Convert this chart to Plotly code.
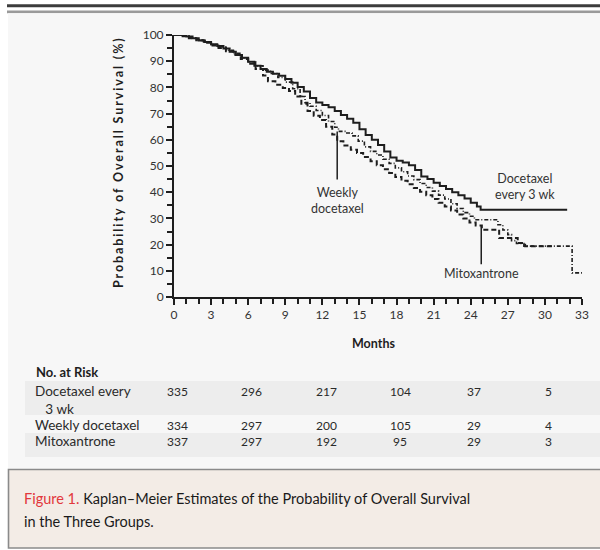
import plotly.graph_objects as go

# ---------------- data ----------------
months_q3w = [0, 0.5, 1.0, 1.5, 2.0, 2.5, 3.0, 3.5, 4.0, 4.5, 5.0, 5.5, 6.0, 6.5, 7.0, 7.5, 8.0, 8.5, 9.0, 9.5,
              10.0, 10.5, 11.0, 11.5, 12.0, 12.5, 13.0, 13.5, 14.0, 14.5, 15.0, 15.5, 16.0, 16.5, 17.0, 17.5,
              18.0, 18.5, 19.0, 19.5, 20.0, 20.5, 21.0, 21.5, 22.0, 22.5, 23.0, 23.5, 24.0, 24.5, 24.8, 31.8]
surv_q3w = [100, 100, 99.4, 98.8, 97.9, 97.3, 96.5, 95.8, 94.8, 93.6, 92.4, 91.3, 89.8, 88.3, 87.0, 86.0, 85.2, 84.4, 83.2, 81.8,
            80.2, 78.4, 76.0, 74.2, 73.3, 72.4, 71.0, 69.5, 68.0, 66.5, 64.0, 61.8, 60.0, 58.0, 55.5, 53.2,
            52.0, 51.3, 50.3, 48.5, 46.0, 45.0, 43.6, 42.4, 41.2, 40.0, 38.8, 37.6, 36.0, 34.5, 33.3, 33.3]

months_weekly = [0, 0.7, 1.2, 1.8, 2.4, 3.0, 3.6, 4.2, 4.8, 5.4, 6.0, 6.6, 7.2, 7.8, 8.4, 9.0, 9.6, 10.2, 10.6, 11.0,
                 11.5, 12.0, 12.5, 13.0, 13.3, 13.9, 14.4, 14.9, 15.4, 15.9, 16.4, 16.9, 17.4, 17.9, 18.4, 18.9,
                 19.4, 19.9, 20.4, 20.9, 21.4, 21.9, 22.4, 22.9, 23.4, 23.9, 24.3, 26.2, 26.6, 27.0, 27.3, 27.7,
                 28.3, 32.2, 33.0]
surv_weekly = [100, 99.6, 98.9, 98.2, 97.3, 96.4, 95.4, 94.2, 93.0, 91.3, 89.8, 88.2, 86.6, 85.3, 83.8, 82.0, 79.5, 76.5, 74.2, 72.8,
               71.2, 69.3, 67.0, 64.8, 63.2, 62.6, 61.5, 59.5, 57.3, 55.6, 54.2, 52.6, 51.0, 49.3, 47.8, 46.2,
               44.8, 43.3, 41.8, 40.4, 38.9, 37.4, 35.6, 33.8, 32.2, 30.8, 29.5, 27.6, 25.6, 23.8, 21.5, 20.4,
               19.4, 9.2, 9.2]

months_mito = [0, 0.7, 1.2, 1.8, 2.4, 3.0, 3.6, 4.2, 4.8, 5.4, 6.0, 6.6, 7.2, 7.6, 8.2, 8.8, 9.3, 9.8, 10.3, 10.8,
               11.3, 11.8, 12.3, 12.8, 13.2, 13.7, 14.3, 14.8, 15.3, 15.9, 16.4, 16.9, 17.4, 17.9, 18.4, 18.9,
               19.4, 19.9, 20.4, 20.9, 21.4, 21.9, 22.4, 22.9, 23.4, 23.9, 24.4, 24.9, 26.3, 27.8, 28.4, 30.6]
surv_mito = [100, 99.5, 98.8, 98.0, 97.0, 96.0, 95.0, 93.8, 92.5, 90.8, 89.0, 87.0, 84.5, 82.3, 81.0, 79.8, 78.6, 76.5, 73.8, 71.0,
             69.2, 67.6, 65.0, 62.0, 59.4, 57.8, 56.2, 55.0, 53.4, 51.8, 50.3, 48.8, 47.3, 45.8, 44.4, 43.0,
             41.6, 40.2, 38.8, 37.4, 36.0, 34.5, 33.0, 31.5, 30.0, 28.4, 27.3, 25.7, 22.5, 20.6, 19.4, 19.4]

risk_months = [0, 6, 12, 18, 24, 30]
risk_groups = ["Docetaxel every<br>&nbsp;&nbsp;&nbsp;3 wk", "Weekly docetaxel", "Mitoxantrone"]
risk_counts = [
    [335, 296, 217, 104, 37, 5],
    [334, 297, 200, 105, 29, 4],
    [337, 297, 192, 95, 29, 3],
]

x_ticks = [0, 3, 6, 9, 12, 15, 18, 21, 24, 27, 30, 33]
y_ticks = [0, 10, 20, 30, 40, 50, 60, 70, 80, 90, 100]

# ---------------- layout helpers ----------------
W, H = 600, 550
ML, MR, MT, MB = 174, 18, 35, 253
PW = W - ML - MR
PH = H - MT - MB


def fx(px):
    return (px - ML) / PW


def fy(py):
    return (H - MB - py) / PH


FONT = "Lato"
INK = "#1e1e1e"

fig = go.Figure()

fig.add_trace(go.Scatter(x=months_q3w, y=surv_q3w, mode="lines", cliponaxis=False,
                         line=dict(color=INK, width=2, shape="hv"), hoverinfo="skip"))
fig.add_trace(go.Scatter(x=months_weekly, y=surv_weekly, mode="lines", cliponaxis=False,
                         line=dict(color=INK, width=1.6, shape="hv", dash="4px,2px,1px,2px"), hoverinfo="skip"))
fig.add_trace(go.Scatter(x=months_mito, y=surv_mito, mode="lines", cliponaxis=False,
                         line=dict(color=INK, width=2, shape="hv", dash="5px,3px"), hoverinfo="skip"))

shapes = [
    # top rules
    dict(type="rect", xref="paper", yref="paper", x0=fx(7), x1=fx(600), y0=fy(7.2), y1=fy(4.3),
         fillcolor="#3c3c3c", line_width=0, layer="below"),
    dict(type="rect", xref="paper", yref="paper", x0=fx(7), x1=fx(600), y0=fy(13.2), y1=fy(10.5),
         fillcolor="#9a9a9a", line_width=0, layer="below"),
    # panel
    dict(type="rect", xref="paper", yref="paper", x0=fx(8), x1=fx(600), y0=fy(469), y1=fy(13.2),
         fillcolor="#f7f7f7", line_width=0, layer="below"),
    # table shading
    dict(type="rect", xref="paper", yref="paper", x0=fx(25), x1=fx(600), y0=fy(415), y1=fy(381),
         fillcolor="#ededed", line_width=0, layer="below"),
    dict(type="rect", xref="paper", yref="paper", x0=fx(25), x1=fx(600), y0=fy(457), y1=fy(433),
         fillcolor="#ededed", line_width=0, layer="below"),
    # caption box
    dict(type="rect", xref="paper", yref="paper", x0=fx(8.5), x1=fx(602), y0=fy(548), y1=fy(469.5),
         fillcolor="#f3ece6", line=dict(color="#8a8a8a", width=1.6), layer="below"),
    # pointer lines
    dict(type="line", xref="x", yref="y", x0=13.2, x1=13.2, y0=63.2, y1=44.8,
         line=dict(color=INK, width=1.5)),
    dict(type="line", xref="x", yref="y", x0=24.85, x1=24.85, y0=27.3, y1=12.5,
         line=dict(color=INK, width=1.5)),
]

ann = []
tf = dict(family=FONT, size=12.5, color="#333333")
ann.append(dict(x=13.2, y=43.5, xref="x", yref="y", text="Weekly<br>docetaxel", showarrow=False,
                xanchor="center", yanchor="top", font=tf, align="center"))
ann.append(dict(x=28.4, y=42.2, xref="x", yref="y", text="Docetaxel<br>every 3 wk", showarrow=False,
                xanchor="center", yanchor="middle", font=tf, align="center"))
ann.append(dict(x=24.9, y=8.9, xref="x", yref="y", text="Mitoxantrone", showarrow=False,
                xanchor="center", yanchor="middle", font=tf))

# axis titles
ann.append(dict(x=fx(118), y=fy(162), xref="paper", yref="paper", xanchor="center", yanchor="middle",
                text="<b><span style='letter-spacing:1.9px'>Probability of Overall Survival (%)</span></b>",
                textangle=-90, showarrow=False, font=dict(family=FONT, size=12.5, color=INK)))
ann.append(dict(x=fx(373), y=fy(343), xref="paper", yref="paper", xanchor="center", yanchor="middle",
                text="<b>Months</b>", showarrow=False, font=dict(family=FONT, size=12.5, color=INK)))

# at-risk table
ann.append(dict(x=fx(34), y=fy(372), xref="paper", yref="paper", text="<b>No. at Risk</b>", showarrow=False,
                xanchor="left", yanchor="middle", font=dict(family=FONT, size=13, color=INK)))
row_y = [391, 425, 441]
for gi, grp in enumerate(risk_groups):
    ann.append(dict(x=fx(34), y=fy(row_y[gi] - 9), xref="paper", yref="paper", text=grp, showarrow=False,
                    xanchor="left", yanchor="top", align="left", borderpad=0,
                    font=dict(family=FONT, size=13.5, color="#2a2a2a")))
    for mi, m in enumerate(risk_months):
        ann.append(dict(x=m + 0.3, y=fy(row_y[gi]), xref="x", yref="paper", text=str(risk_counts[gi][mi]),
                        showarrow=False, xanchor="center", yanchor="middle",
                        font=dict(family=FONT, size=12, color="#2a2a2a")))

# caption
ann.append(dict(x=fx(22), y=fy(498), xref="paper", yref="paper", yanchor="middle",
                text="<span style='color:#e2383c'>Figure 1.</span> Kaplan\u2013Meier Estimates of the Probability of Overall Survival",
                showarrow=False, xanchor="left", font=dict(family=FONT, size=14.5, color="#1a1a1a")))
ann.append(dict(x=fx(22), y=fy(521), xref="paper", yref="paper", yanchor="middle", text="in the Three Groups.",
                showarrow=False, xanchor="left", font=dict(family=FONT, size=14.5, color="#1a1a1a")))

axis_common = dict(showline=True, linewidth=2, linecolor=INK, ticks="outside", tickwidth=1.5, tickcolor=INK,
                   ticklen=6, showgrid=False, zeroline=False, tickfont=dict(family=FONT, size=12, color="#333333"),
                   fixedrange=True)

fig.update_layout(
    width=W, height=H,
    margin=dict(l=ML, r=MR, t=MT, b=MB, pad=0),
    paper_bgcolor="white", plot_bgcolor="rgba(0,0,0,0)",
    showlegend=False,
    shapes=shapes, annotations=ann,
    xaxis=dict(range=[0, 33], tickvals=x_ticks, ticktext=[str(v) for v in x_ticks],
               minor=dict(dtick=1, tick0=0, ticks="outside", ticklen=5, tickwidth=1.5, tickcolor=INK),
               **axis_common),
    yaxis=dict(range=[0, 100], tickvals=y_ticks, ticktext=[str(v) for v in y_ticks],
               minor=dict(dtick=5, tick0=0, ticks="outside", ticklen=5, tickwidth=1.5, tickcolor=INK),
               **axis_common),
)

fig.write_html("out.html", config={"displayModeBar": False},
               post_script="document.body.style.margin='0px';document.body.style.overflow='hidden';")
